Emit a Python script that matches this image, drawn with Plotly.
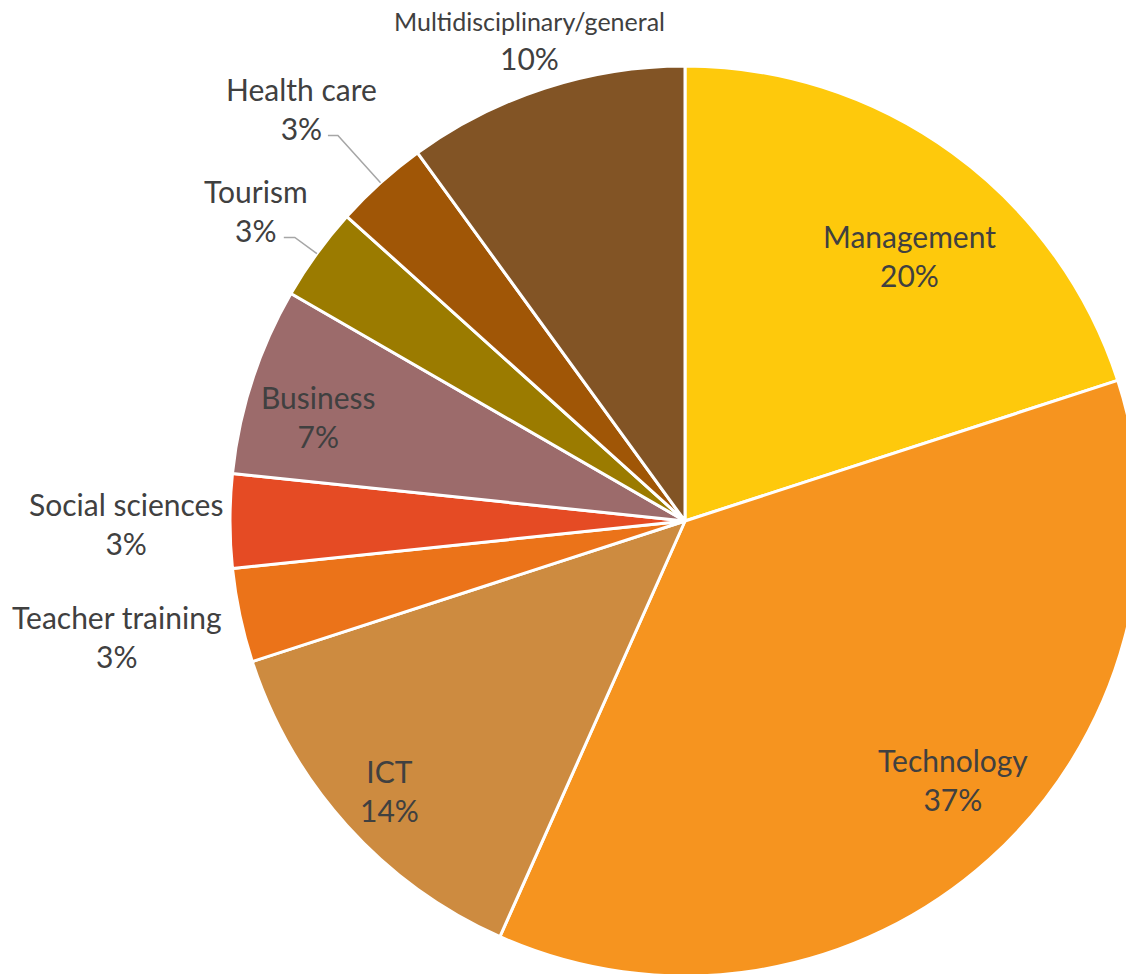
import math
import plotly.graph_objects as go

categories = ["Management", "Technology", "ICT", "Teacher training", "Social sciences",
              "Business", "Tourism", "Health care", "Multidisciplinary/general"]
counts = [6, 11, 4, 1, 1, 2, 1, 1, 3]
percent_labels = ["20%", "37%", "14%", "3%", "3%", "7%", "3%", "3%", "10%"]

# styling / label placement (kept separate from data)
colors = ["#FEC90C", "#F6941F", "#CD8B40", "#EB7319", "#E54B24",
          "#9C6B6B", "#9B7B00", "#A05606", "#825425"]
label_radius = [0.764, 0.819, 0.880, 1.274, 1.229, 0.837, 1.165, 1.239, 1.109]
label_angle_shift = [4.3, -4.0, -0.4, 0.5, -0.3, -2.0, -0.1, -0.9, 0.0]
label_size = [30, 30, 30, 30, 30, 30, 30, 30, 25]
leader = {"Tourism": (1.06, 11), "Health care": (1.14, 10)}

W, H = 1160, 1000
cx, cy, R = 685, 521, 455


def px(x, y):
    return x / W, 1 - y / H


fig = go.Figure(go.Pie(
    labels=categories,
    values=counts,
    sort=False,
    direction="clockwise",
    rotation=0,
    marker=dict(colors=colors, line=dict(color="white", width=3)),
    textinfo="none",
    hoverinfo="label+percent",
    showlegend=False,
    domain=dict(x=[(cx - R) / W, (cx + R) / W], y=[(H - cy - R) / H, (H - cy + R) / H]),
))

total = sum(counts)
cum = 0
for i, (lab, v) in enumerate(zip(categories, counts)):
    mid = 360.0 * (cum + v / 2) / total
    cum += v
    th = math.radians(mid + label_angle_shift[i])
    r = label_radius[i] * R
    lx, ly = cx + r * math.sin(th), cy - r * math.cos(th)
    if label_size[i] != 30:
        txt = f"<span style='font-size:{label_size[i]}px'>{lab}</span><br>{percent_labels[i]}"
    else:
        txt = f"{lab}<br>{percent_labels[i]}"
    ax, ay = px(lx, ly)
    fig.add_annotation(x=ax, y=ay, xref="paper", yref="paper", text=txt,
                       showarrow=False, xanchor="center", yanchor="middle",
                       align="center",
                       font=dict(family="Lato", size=30, color="#404040"))
    if lab in leader:
        f, hx = leader[lab]
        thb = math.radians(mid)
        x0, y0 = cx + R * math.sin(thb), cy - R * math.cos(thb)
        x1, y1 = cx + f * R * math.sin(thb), cy - f * R * math.cos(thb)
        x2, y2 = x1 - hx, y1
        pts = [px(x0, y0), px(x1, y1), px(x2, y2)]
        path = "M {} {} L {} {} L {} {}".format(*[c for p in pts for c in p])
        fig.add_shape(type="path", path=path, xref="paper", yref="paper",
                      line=dict(color="#A6A6A6", width=1.5))

fig.update_layout(width=W, height=H, margin=dict(l=0, r=0, t=0, b=0),
                  paper_bgcolor="white", plot_bgcolor="white")
fig.write_html("out.html", config={"displayModeBar": False},
               post_script="document.body.style.margin='0';document.body.style.overflow='hidden';")
